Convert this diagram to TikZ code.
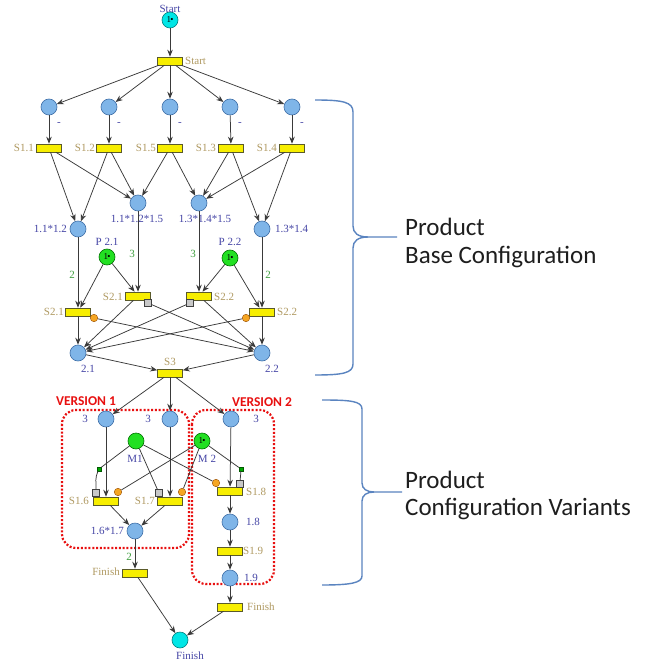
\documentclass[tikz,border=0pt]{standalone}
\usepackage{fontspec}
\setmainfont{Liberation Serif}
\newfontfamily\carl{Carlito}
\usetikzlibrary{arrows.meta}
\definecolor{placefill}{HTML}{7FB5E8}
\definecolor{placedraw}{HTML}{3F6FA8}
\definecolor{transfill}{HTML}{F7EE00}
\definecolor{transdraw}{HTML}{5A5A2A}
\definecolor{tlab}{HTML}{B09A62}
\definecolor{plab}{HTML}{4646A6}
\definecolor{wlab}{HTML}{3F9F3F}
\definecolor{cyanfill}{HTML}{00E6E6}
\definecolor{greenfill}{HTML}{22E022}
\definecolor{orangefill}{HTML}{F5A623}
\definecolor{grayfill}{HTML}{C8C8C8}
\definecolor{verred}{HTML}{E81010}
\definecolor{bracecol}{HTML}{5A84C0}
\definecolor{arcol}{HTML}{3A3A3A}
\definecolor{bigtxt}{HTML}{1E1E1E}
\newcommand\tokmark{{\fontsize{9}{9}\selectfont 1\kern-0.8pt\raisebox{0.2pt}{\textbullet}}}
\begin{document}
\begin{tikzpicture}[x=1pt,y=-1pt,font=\fontsize{11}{12}\selectfont,
  place/.style={circle,draw=placedraw,fill=placefill,minimum size=16pt,inner sep=0pt,line width=0.6pt},
  endplace/.style={place,fill=cyanfill,draw=teal},
  resplace/.style={place,fill=greenfill,draw=green!45!black},
  trans/.style={rectangle,draw=transdraw,fill=transfill,minimum width=25pt,minimum height=8pt,inner sep=0pt,line width=0.6pt},
  orng/.style={circle,fill=orangefill,draw=orange!60!black,minimum size=7.5pt,inner sep=0pt,line width=0.4pt},
  gsq/.style={rectangle,fill=grayfill,draw=gray!50!black,minimum size=7pt,inner sep=0pt,line width=0.4pt},
  smsq/.style={rectangle,fill=green!65!black,draw=green!35!black,minimum size=4pt,inner sep=0pt,line width=0.3pt},
  arc/.style={draw=arcol,line width=0.75pt,-{Stealth[length=7pt,width=5.5pt]}},
  resarc/.style={draw=arcol,line width=0.75pt},
  tl/.style={text=tlab,inner sep=0pt},
  pl/.style={text=plab,inner sep=0pt},
  wl/.style={text=wlab,inner sep=0pt},
  verlab/.style={text=verred,font=\carl\bfseries\fontsize{13.5}{14}\selectfont,inner sep=0pt},
  verbox/.style={draw=verred,line width=2.2pt,dash pattern=on 2pt off 1.8pt,rounded corners=14pt},
  bigtext/.style={text=bigtxt,font=\carl\fontsize{25}{28}\selectfont,inner sep=0pt,anchor=base west},
  bracestyle/.style={draw=bracecol,line width=1.4pt}]
\useasboundingbox (0,0) rectangle (646,663);
\fill[white] (0,0) rectangle (646,663);

% version boxes
\draw[verbox] (62,410) rectangle (189,548);
\draw[verbox] (192,410) rectangle (274,584);
\node[verlab] (v1lab) at (86,401) {VERSION 1};
\node[verlab] (v2lab) at (262,402) {VERSION 2};

% start
\node[endplace] (pStart) at (170,20) {\tokmark};
\node[pl] (lpStart) at (170,9) {Start};
\node[trans] (tStart) at (170,61) {};
\node[tl,anchor=west] (ltStart) at (185,61) {Start};

% row 1 places
\foreach \n/\x in {1/49,2/109,3/170,4/230,5/292}{
  \node[place] (p\n) at (\x,107) {};
  \node[pl] (lp\n) at (\x+10,124) {-};
}
% row 1 transitions
\node[trans] (t11) at (49,148) {};
\node[trans] (t12) at (109,148) {};
\node[trans] (t15) at (170,148) {};
\node[trans] (t13) at (231,148) {};
\node[trans] (t14) at (292,148) {};
\node[tl,anchor=east] (lt11) at (34,148) {S1.1};
\node[tl,anchor=east] (lt12) at (95,148) {S1.2};
\node[tl,anchor=east] (lt15) at (156,148) {S1.5};
\node[tl,anchor=east] (lt13) at (216,148) {S1.3};
\node[tl,anchor=east] (lt14) at (277,148) {S1.4};

% row 2 places
\node[place] (p112) at (78,229) {};
\node[place] (p1125) at (138,203) {};
\node[place] (p1345) at (199,203) {};
\node[place] (p134) at (262,229) {};
\node[pl,anchor=east] (lp112) at (67,229) {1.1*1.2};
\node[pl] (lp1125) at (137,219) {1.1*1.2*1.5};
\node[pl] (lp1345) at (205,219) {1.3*1.4*1.5};
\node[pl,anchor=west] (lp134) at (275,229) {1.3*1.4};

% resource places
\node[resplace] (P21) at (107,257) {\tokmark};
\node[resplace] (P22) at (230,258) {\tokmark};
\node[pl] (lP21) at (107,242) {P 2.1};
\node[pl] (lP22) at (230,242) {P 2.2};

% S2 transitions
\node[trans] (t21a) at (78,312) {};
\node[trans] (t21b) at (138,296) {};
\node[trans] (t22b) at (199,296) {};
\node[trans] (t22a) at (262,312) {};
\node[orng] (o21) at (94,318) {};
\node[gsq] (g21) at (148,303) {};
\node[gsq] (g22) at (190,303) {};
\node[orng] (o22) at (246,318) {};
\node[tl,anchor=east] (lt21a) at (64,312) {S2.1};
\node[tl,anchor=east] (lt21b) at (123,297) {S2.1};
\node[tl,anchor=west] (lt22b) at (214,297) {S2.2};
\node[tl,anchor=west] (lt22a) at (277,312) {S2.2};
\node[wl] (w1) at (72,275) {2};
\node[wl] (w2) at (132,254) {3};
\node[wl] (w3) at (193,254) {3};
\node[wl] (w4) at (268,275) {2};

% 2.1 / 2.2
\node[place] (p21) at (78,353) {};
\node[place] (p22) at (262,353) {};
\node[pl] (lp21) at (88,369) {2.1};
\node[pl] (lp22) at (272,369) {2.2};

% S3
\node[trans] (t3) at (170,373) {};
\node[tl] (lt3) at (170,362) {S3};

% row 3 places
\node[place] (q1) at (106,419) {};
\node[place] (q2) at (170,419) {};
\node[place] (q3) at (231,419) {};
\node[pl] (lq1) at (85,419) {3};
\node[pl] (lq2) at (148,419) {3};
\node[pl] (lq3) at (256,419) {3};

% M1 M2
\node[resplace] (M1) at (136,441) {};
\node[resplace] (M2) at (202,441) {\tokmark};
\node[pl] (lM1) at (135,459) {M1};
\node[pl] (lM2) at (207,459) {M 2};

% S1.6 S1.7 S1.8
\node[trans] (t16) at (106,501) {};
\node[trans] (t17) at (170,501) {};
\node[trans] (t18) at (230,491) {};
\node[gsq] (gs16) at (96,493) {};
\node[orng] (os16) at (118,492) {};
\node[gsq] (gs17) at (159,493) {};
\node[orng] (os17) at (182,492) {};
\node[orng] (os18) at (216,483) {};
\node[gsq] (gs18) at (239.5,483.5) {};
\node[smsq] (sq1) at (99,469) {};
\node[smsq] (sq2) at (241,469) {};
\node[tl,anchor=east] (lt16) at (89,501) {S1.6};
\node[tl,anchor=east] (lt17) at (155,501) {S1.7};
\node[tl,anchor=west] (lt18) at (246,492) {S1.8};

% lower
\node[place] (p1617) at (135,531) {};
\node[pl,anchor=east] (lp1617) at (124,531) {1.6*1.7};
\node[wl] (w5) at (129,557) {2};
\node[trans] (tFinL) at (135,573) {};
\node[tl,anchor=east] (ltFinL) at (120,572) {Finish};
\node[place] (p18) at (230,522) {};
\node[pl,anchor=west] (lp18) at (246,522) {1.8};
\node[trans] (t19) at (230,551) {};
\node[tl,anchor=west] (lt19) at (243,551) {S1.9};
\node[place] (p19) at (230,578) {};
\node[pl,anchor=west] (lp19) at (244,578) {1.9};
\node[trans] (tFinR) at (230,607) {};
\node[tl,anchor=west] (ltFinR) at (247,607) {Finish};
\node[endplace] (pFinish) at (180,640) {};
\node[pl] (lpFinish) at (190,656) {Finish};

% arcs
\draw[arc] (pStart) -- (tStart);
\foreach \n in {1,...,5}{\draw[arc] (tStart) -- (p\n);}
\draw[arc] (p1) -- (t11);
\draw[arc] (p2) -- (t12);
\draw[arc] (p3) -- (t15);
\draw[arc] (p4) -- (t13);
\draw[arc] (p5) -- (t14);
\draw[arc] (t11) -- (p112);
\draw[arc] (t11) -- (p1125);
\draw[arc] (t12) -- (p112);
\draw[arc] (t12) -- (p1125);
\draw[arc] (t15) -- (p1125);
\draw[arc] (t15) -- (p1345);
\draw[arc] (t13) -- (p1345);
\draw[arc] (t13) -- (p134);
\draw[arc] (t14) -- (p1345);
\draw[arc] (t14) -- (p134);
\draw[arc] (p112) -- (t21a);
\draw[arc] (p1125) -- (t21b);
\draw[arc] (p1345) -- (t22b);
\draw[arc] (p134) -- (t22a);
\draw[arc] (P21) -- (t21a);
\draw[arc] (P21) -- (t21b);
\draw[arc] (P22) -- (t22b);
\draw[arc] (P22) -- (t22a);
\draw[arc] (t21a) -- (p21);
\draw[arc] (o21) -- (p22);
\draw[arc] (t21b) -- (p21);
\draw[arc] (g21) -- (p22);
\draw[arc] (t22b) -- (p22);
\draw[arc] (g22) -- (p21);
\draw[arc] (t22a) -- (p22);
\draw[arc] (o22) -- (p21);
\draw[arc] (p21) -- (t3);
\draw[arc] (p22) -- (t3);
\draw[arc] (t3) -- (q1);
\draw[arc] (t3) -- (q2);
\draw[arc] (t3) -- (q3);
\draw[arc] (q1) -- (t16);
\draw[arc] (q2) -- (t17);
\draw[arc] (q3) -- (t18);
\draw[resarc] (M1) -- (sq1);
\draw[resarc] (sq1) to[out=-115,in=90] (gs16);
\draw[resarc] (M1) -- (gs17);
\draw[resarc] (M1) -- (os18);
\draw[resarc] (M2) -- (os16);
\draw[resarc] (M2) -- (os17);
\draw[resarc] (M2) -- (sq2);
\draw[resarc] (sq2) to[out=-95,in=80] (gs18);
\draw[arc] (t16) -- (p1617);
\draw[arc] (t17) -- (p1617);
\draw[arc] (p1617) -- (tFinL);
\draw[arc] (tFinL) -- (pFinish);
\draw[arc] (t18) -- (p18);
\draw[arc] (p18) -- (t19);
\draw[arc] (t19) -- (p19);
\draw[arc] (p19) -- (tFinR);
\draw[arc] (tFinR) -- (pFinish);

% braces
\draw[bracestyle] (315,100) .. controls (343,100) and (353,102) .. (353,112) -- (353,226)
  .. controls (353,233) and (358,237) .. (368,237) -- (397,237);
\draw[bracestyle] (368,237) .. controls (358,237) and (353,241) .. (353,248) -- (353,364)
  .. controls (353,373) and (343,375) .. (315,375);
\draw[bracestyle] (322,400) .. controls (350,400) and (362,401) .. (362,409) -- (362,483)
  .. controls (362,489) and (367,492) .. (374,492) -- (402,492);
\draw[bracestyle] (374,492) .. controls (367,492) and (362,495) .. (362,501) -- (362,576)
  .. controls (362,583) and (350,585) .. (322,585);

% big texts
\node[bigtext] (bt1) at (405,235) {Product};
\node[bigtext] (bt2) at (405,263) {Base Configuration};
\node[bigtext] (bt3) at (405,488) {Product};
\node[bigtext] (bt4) at (405,515) {Configuration Variants};
\end{tikzpicture}
\end{document}
